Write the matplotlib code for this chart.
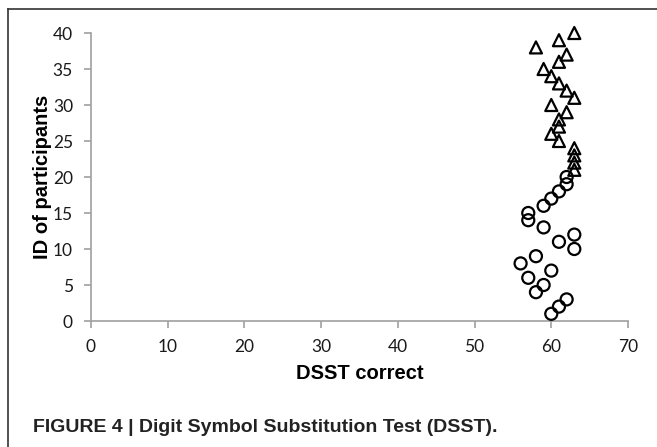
import matplotlib.pyplot as plt
from matplotlib.lines import Line2D

# DSST correct per participant (ID 1-20 circles, 21-40 triangles)
ids_circle = list(range(1, 21))
dsst_circle = [60, 61, 62, 58, 59, 57, 60, 56, 58, 63,
               61, 63, 59, 57, 57, 59, 60, 61, 62, 62]
ids_tri = list(range(21, 41))
dsst_tri = [63, 63, 63, 63, 61, 60, 61, 61, 62, 60,
            63, 62, 61, 60, 59, 61, 62, 58, 61, 63]

xticks = [0, 10, 20, 30, 40, 50, 60, 70]
yticks = [0, 5, 10, 15, 20, 25, 30, 35, 40]

fig = plt.figure(figsize=(6.57, 4.47), dpi=100)
ax = fig.add_axes([91/657, 1 - 321/447, (628-91)/657, (321-33)/447])

ax.scatter(dsst_circle, ids_circle, marker='o', s=75, facecolors='none',
           edgecolors='black', linewidths=1.6, zorder=3)
ax.scatter(dsst_tri, ids_tri, marker='^', s=75, facecolors='none',
           edgecolors='black', linewidths=1.6, zorder=3)

ax.set_xlim(0, 70)
ax.set_ylim(0, 40)
ax.set_xticks(xticks)
ax.set_yticks(yticks)
for s in ['top', 'right']:
    ax.spines[s].set_visible(False)
for s in ['left', 'bottom']:
    ax.spines[s].set_color('#a0a0a0')
    ax.spines[s].set_linewidth(1.2)
ax.tick_params(colors='#a0a0a0', length=5, width=1.2, direction='out', pad=8)
for lab in ax.get_xticklabels() + ax.get_yticklabels():
    lab.set_color('#1a1a1a')
    lab.set_fontfamily('Lato')
    lab.set_fontsize(12.5)
ax.tick_params(axis='x', pad=8)

ax.set_xlabel('DSST correct', fontsize=14.5, fontweight='bold',
              family='Liberation Sans')
ax.set_ylabel('ID of participants', fontsize=14.5, fontweight='bold',
              family='Liberation Sans')
ax.xaxis.set_label_coords(0.5, -0.15)
ax.yaxis.set_label_coords(-0.073, 0.5)
for c in ax.collections:
    c.set_clip_on(False)

# frame around the figure panel
fig.add_artist(Line2D([8/657, 1], [1 - 9/447, 1 - 9/447], color='#333333', lw=1.2))
fig.add_artist(Line2D([8/657, 8/657], [0, 1 - 9/447], color='#333333', lw=1.2))

fig.text(33/657, 1 - 428/447, 'FIGURE 4 | Digit Symbol Substitution Test (DSST).',
         fontsize=14, fontweight='bold', family='Liberation Sans',
         color='#222222', va='center', ha='left')

fig.savefig('out.png', dpi=100)
